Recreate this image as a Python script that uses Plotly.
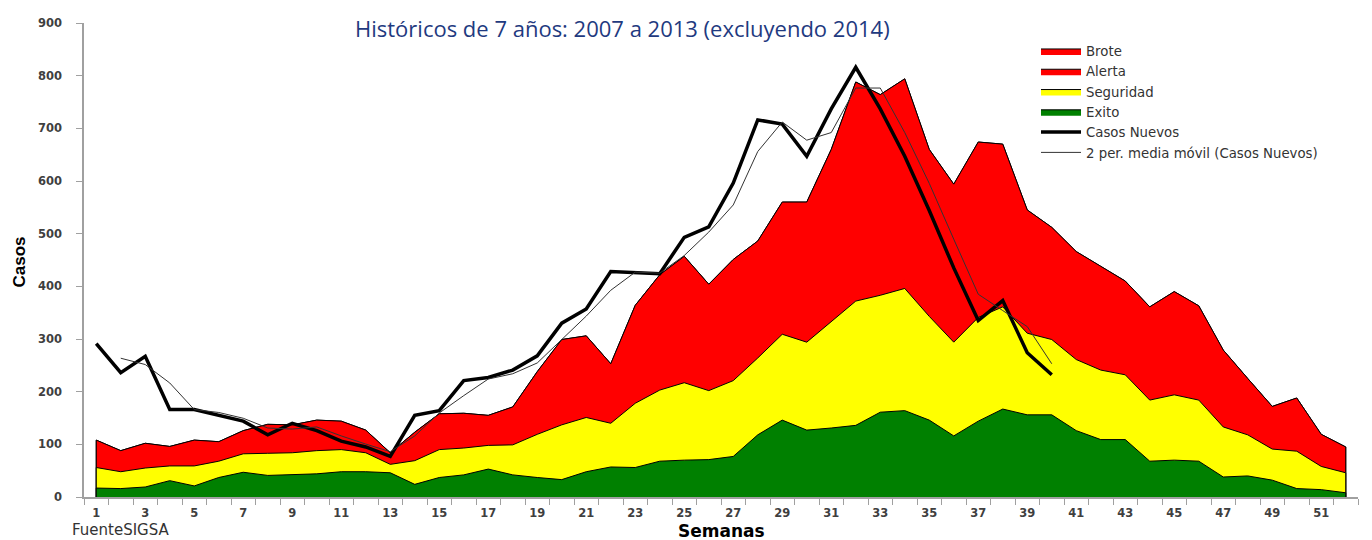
import plotly.graph_objects as go

semanas = list(range(1, 53))

# Upper limit (Alerta / Brote share the same red band)
alerta = [108, 88, 102, 96, 108, 105, 126, 138, 137, 146, 144, 127, 84, 123, 158, 159,
          155, 171, 238, 299, 306, 253, 364, 422, 457, 404, 451, 486, 560, 560, 660, 788,
          764, 794, 660, 594, 674, 670, 545, 512, 466, 438, 410, 361, 390, 363, 279, 225,
          172, 188, 119, 95]
brote = list(alerta)
seguridad = [56, 48, 55, 59, 59, 68, 82, 83, 84, 88, 90, 84, 62, 69, 90, 93,
             98, 99, 119, 137, 151, 140, 178, 203, 217, 202, 221, 264, 309, 294, 333, 372,
             383, 396, 343, 294, 341, 361, 311, 299, 261, 241, 232, 184, 194, 184, 133, 118,
             91, 87, 58, 46]
exito = [17, 16, 19, 31, 21, 37, 47, 41, 42, 44, 48, 48, 46, 24, 37, 42,
         53, 42, 37, 33, 48, 57, 56, 68, 70, 71, 77, 118, 146, 127, 131, 136,
         161, 164, 146, 116, 144, 167, 156, 156, 126, 109, 109, 68, 70, 68, 38, 40,
         32, 16, 14, 8]

semanas_casos = list(range(1, 41))
casos_nuevos = [291, 236, 267, 166, 166, 155, 144, 118, 140, 126, 106, 95, 77, 155, 164, 221,
                227, 241, 268, 330, 357, 428, 426, 424, 493, 513, 596, 716, 708, 647, 737, 816,
                737, 647, 544, 435, 335, 373, 274, 232]

semanas_mm = list(range(2, 41))
media_movil = [263.5, 251.5, 216.5, 166, 160.5, 149.5, 131, 129, 133, 116, 100.5, 86, 116,
               159.5, 192.5, 224, 234, 254.5, 299, 343.5, 392.5, 427, 425, 458.5, 503, 554.5,
               656, 712, 677.5, 692, 776.5, 776.5, 692, 595.5, 489.5, 385, 354, 323.5, 253]

x_ticks = list(range(1, 53, 2))
y_ticks = list(range(0, 901, 100))

fig = go.Figure()

def area(name, y, color):
    # close the outline down to the axis at both ends (vertical borders as in the original)
    xs = [semanas[0]] + semanas + [semanas[-1]]
    ys = [0] + list(y) + [0]
    fig.add_trace(go.Scatter(
        x=xs, y=ys, name=name, mode="lines", fill="tozeroy",
        fillcolor=color, line=dict(color="#000000", width=1), hoverinfo="x+y"))

area("Brote", brote, "#FF0000")
area("Alerta", alerta, "#FF0000")
area("Seguridad", seguridad, "#FFFF00")
area("Exito", exito, "#008000")

fig.add_trace(go.Scatter(x=semanas_casos, y=casos_nuevos, name="Casos Nuevos",
                         mode="lines", line=dict(color="#000000", width=3.5)))
fig.add_trace(go.Scatter(x=semanas_mm, y=media_movil,
                         name="2 per. media móvil (Casos Nuevos)",
                         mode="lines", line=dict(color="#333333", width=1)))

tick_font = dict(family="DejaVu Sans", size=11.5, color="#3f3f3f", weight="bold")

# page body has an 8px margin; plot area in page pixels: x 84..1358, y 16..497
PL, PR, PT, PB = 84, 1358, 16, 497
PW, PH = PR - PL, PB - PT

def px(x):
    return (x - PL) / PW

def py(y):
    return (PB - y) / PH

fig.update_layout(
    width=1372, height=540,
    margin=dict(l=PL - 8, r=1372 - (PR - 8), t=PT - 8, b=540 - (PB - 8)),
    paper_bgcolor="white", plot_bgcolor="white",
    showlegend=True,
    legend=dict(x=px(1036), y=py(29), xanchor="left", yanchor="top",
                bgcolor="rgba(0,0,0,0)", tracegroupgap=0,
                font=dict(family="DejaVu Sans", size=13.3, color="#333333"),
                itemwidth=40),
    xaxis=dict(range=[0.5, 52.5], tickvals=x_ticks, ticktext=[str(v) for v in x_ticks],
               ticks="", showgrid=False, zeroline=False,
               showline=True, linecolor="#a0a0a0", linewidth=1.5,
               tickfont=tick_font, ticklabelstandoff=4,
               minor=dict(ticks="outside", tick0=0.5, dtick=1, ticklen=6,
                          tickcolor="#a0a0a0", showgrid=False)),
    yaxis=dict(range=[0, 900], tickvals=y_ticks, showgrid=False, zeroline=False,
               showline=True, linecolor="#a0a0a0", linewidth=1.5,
               ticks="outside", ticklen=6, tickcolor="#a0a0a0",
               tickfont=tick_font, ticklabelstandoff=12),
    annotations=[
        dict(text="Históricos de 7 años: 2007 a 2013 (excluyendo 2014)",
             xref="paper", yref="paper", x=px(622), y=py(5),
             xanchor="center", yanchor="top", showarrow=False, borderpad=0,
             font=dict(family="Open Sans", size=22, color="#1F3A80")),
        dict(text="<b>Casos</b>", xref="paper", yref="paper",
             x=px(19), y=py(259), textangle=-90,
             xanchor="center", yanchor="middle", showarrow=False,
             font=dict(family="Liberation Sans Narrow, Liberation Sans", size=17, color="#000000")),
        dict(text="<b>Semanas</b>", xref="paper", yref="paper",
             x=px(721), y=py(531),
             xanchor="center", yanchor="middle", showarrow=False,
             font=dict(family="DejaVu Sans", size=17, color="#000000")),
        dict(text="FuenteSIGSA", xref="paper", yref="paper",
             x=px(70), y=py(530),
             xanchor="left", yanchor="middle", showarrow=False,
             font=dict(family="DejaVu Sans", size=15, color="#333333")),
    ],
)

fig.write_html("out.html", config=dict(displayModeBar=False))
